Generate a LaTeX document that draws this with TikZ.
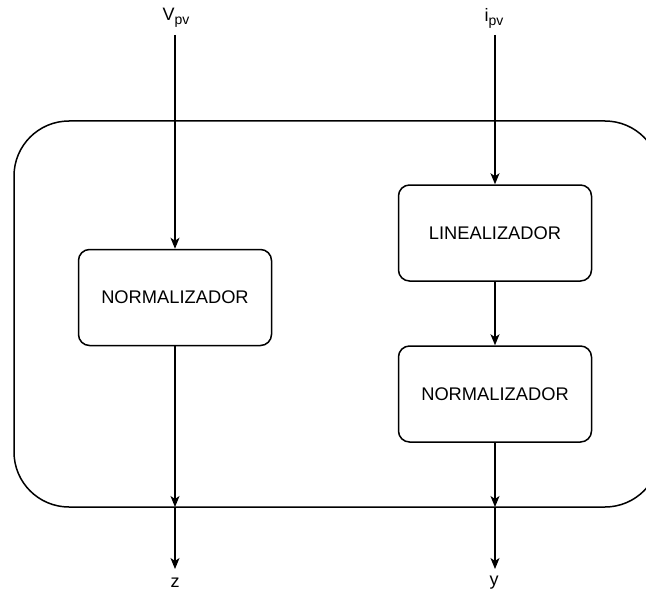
\documentclass[tikz,border=0pt]{standalone}
\usepackage{fontspec}
\setmainfont{Liberation Sans}
\usetikzlibrary{arrows.meta}
\newcommand{\lowsub}[1]{\raisebox{-4pt}{\fontsize{14}{16}\selectfont #1}}
\tikzset{
  wire/.style={line width=1.5pt, -{Stealth[length=11pt,width=9pt,inset=3pt]}},
  block/.style={draw, line width=1.5pt, rounded corners=11pt, minimum width=193pt, minimum height=96pt, font=\fontsize{18.3}{21}\selectfont, inner sep=0pt},
  lbl/.style={font=\fontsize{18}{22}\selectfont, inner sep=0pt},
}
\begin{document}
\begin{tikzpicture}[x=1pt, y=-1pt]
  \useasboundingbox (0,0) rectangle (646,594);
  \clip (0,0) rectangle (646,594);
  % enclosing subsystem frame (runs past the right edge)
  \draw[line width=1.5pt, rounded corners=55pt] (14,121) rectangle (660,507);

  % inputs and outputs
  \node[lbl] (vpv) at (176,18) {V\lowsub{pv}};
  \node[lbl] (ipv) at (494,18) {i\lowsub{pv}};
  \node[lbl] (z) at (175,583) {z};
  \node[lbl] (y) at (494,583) {y};

  % processing blocks
  \node[block] (norm1) at (175,297.5) {NORMALIZADOR};
  \node[block] (lin) at (495,233) {LINEALIZADOR};
  \node[block] (norm2) at (495,394) {NORMALIZADOR};

  % frame crossing points
  \coordinate (zin) at (175,507);
  \coordinate (yin) at (495,507);
  \coordinate (zout) at (175,569);
  \coordinate (yout) at (495,569);
  \coordinate (vtop) at (175,35);
  \coordinate (itop) at (495,35);

  % left signal path
  \draw[wire] (vtop) -- (norm1.north);
  \draw[wire] (norm1.south) -- (zin);
  \draw[wire] (zin) -- (zout);

  % right signal path
  \draw[wire] (itop) -- (lin.north);
  \draw[wire] (lin.south) -- (norm2.north);
  \draw[wire] (norm2.south) -- (yin);
  \draw[wire] (yin) -- (yout);
\end{tikzpicture}
\end{document}
